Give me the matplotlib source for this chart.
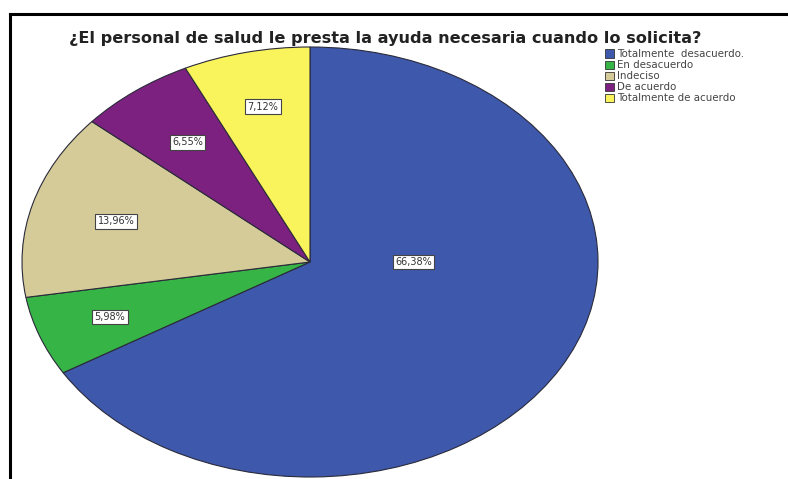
"""
Pie chart: help from health staff when requested
"""

import matplotlib.pyplot as plt
import numpy as np
from matplotlib.lines import Line2D

categories = [
    "Totalmente  desacuerdo.",
    "En desacuerdo",
    "Indeciso",
    "De acuerdo",
    "Totalmente de acuerdo",
]
percentages = [66.38, 5.98, 13.96, 6.55, 7.12]
colors = ["#3E58AC", "#36B446", "#D5CB98", "#7D2180", "#F9F45C"]

# label radius for each slice (fraction of the radius)
label_radius = [0.36, 0.74, 0.70, 0.70, 0.74]

W, H = 788, 479
fig = plt.figure(figsize=(W / 100, H / 100), dpi=100)

# ellipse: centre (310, 262), radii 288 x 215 px
cx, cy, rx, ry = 310, 262, 288, 215
ax = fig.add_axes([(cx - rx) / W, (H - cy - ry) / H, 2 * rx / W, 2 * ry / H])

wedges, _ = ax.pie(
    percentages,
    colors=colors,
    startangle=90,
    counterclock=False,
    wedgeprops=dict(edgecolor="#2a2a3a", linewidth=0.8),
)
ax.set_aspect("auto")
ax.set_xlim(-1, 1)
ax.set_ylim(-1, 1)
ax.axis("off")

for w, pct, r in zip(wedges, percentages, label_radius):
    mid = np.deg2rad((w.theta1 + w.theta2) / 2)
    x, y = r * np.cos(mid), r * np.sin(mid)
    if pct > 50:
        # big slice label sits right of the centre
        x, y = r, 0.0
    ax.text(
        x,
        y,
        f"{pct:.2f}%".replace(".", ","),
        ha="center",
        va="center",
        fontsize=7,
        color="#333333",
        bbox=dict(boxstyle="square,pad=0.25", fc="white", ec="#444444", lw=0.8),
    )

fig.text(
    385 / W,
    1 - 38 / H,
    "¿El personal de salud le presta la ayuda necesaria cuando lo solicita?",
    ha="center",
    va="center",
    fontsize=11.6,
    fontweight="bold",
    color="#222222",
)

leg = fig.legend(
    wedges,
    categories,
    loc="upper left",
    bbox_to_anchor=(600 / W, 1 - 44 / H),
    frameon=False,
    fontsize=7.4,
    handlelength=0.85,
    handleheight=0.85,
    handletextpad=0.3,
    labelspacing=0.1,
    borderpad=0.0,
    labelcolor="#444444",
)
for h in leg.legend_handles:
    h.set_edgecolor("#333333")
    h.set_linewidth(0.6)

# frame lines along the top and left
fig.add_artist(Line2D([10 / W, 1], [1 - 14 / H] * 2, color="black", lw=2.2))
fig.add_artist(Line2D([10 / W] * 2, [0, 1 - 14 / H], color="black", lw=2.2))

fig.savefig("out.png", dpi=100)
